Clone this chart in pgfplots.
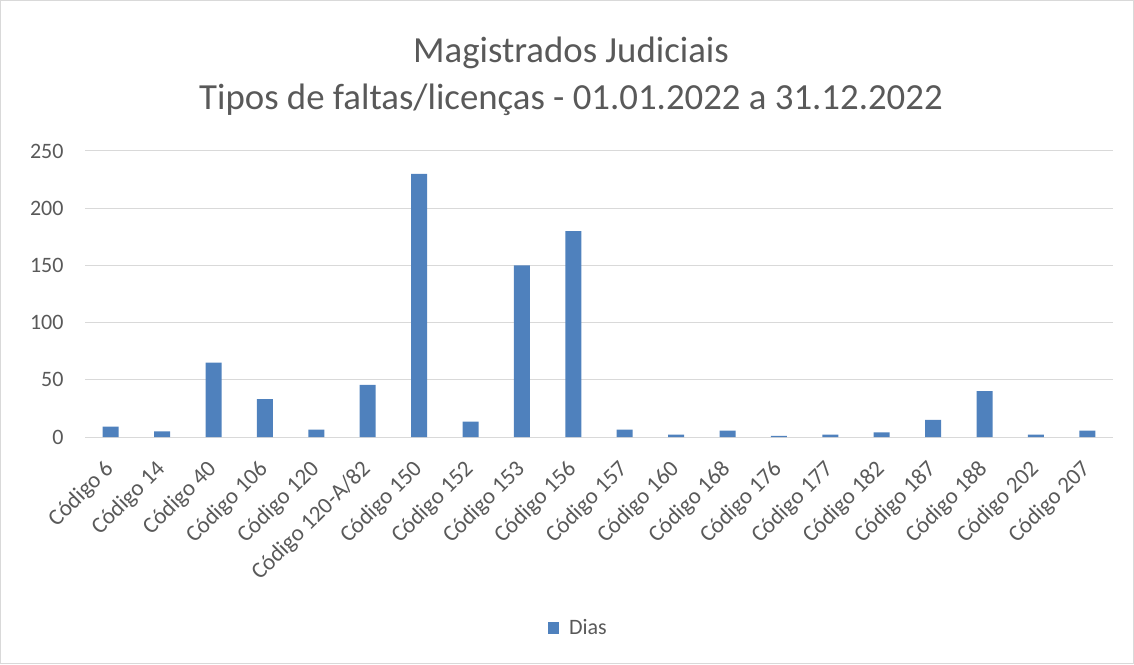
\documentclass[border=0pt]{standalone}
\usepackage{pgfplots}
\pgfplotsset{compat=1.18}
\usepackage{fontspec}
\setmainfont{Carlito}
\definecolor{barblue}{HTML}{4F81BD}
\definecolor{txtgray}{HTML}{595959}
\definecolor{gridgray}{HTML}{D9D9D9}
\begin{document}
\begin{tikzpicture}[x=1pt,y=1pt]
\useasboundingbox (0,0) rectangle (1134,664);
\draw[gridgray, line width=1pt] (0.5,0.5) rectangle (1133.5,663.5);
\node[txtgray, font=\fontsize{36.8}{47}\selectfont, align=center] at (571,588) {Magistrados Judiciais\\Tipos de faltas/licenças - 01.01.2022 a 31.12.2022};
\begin{axis}[
  at={(85pt,227pt)}, anchor=south west,
  scale only axis, width=1028pt, height=286pt,
  xmin=-0.5, xmax=19.5, ymin=0, ymax=250,
  ytick={0,50,...,250},
  xtick={0,...,19},
  xticklabels={Código 6,Código 14,Código 40,Código 106,Código 120,Código 120-A/82,Código 150,Código 152,Código 153,Código 156,Código 157,Código 160,Código 168,Código 176,Código 177,Código 182,Código 187,Código 188,Código 202,Código 207},
  ymajorgrids, grid style={gridgray, line width=1pt},
  axis line style={draw=none},
  major tick length=0pt,
  /pgf/number format/assume math mode=true,
  yticklabel style={txtgray, font=\fontsize{22}{26}\selectfont, xshift=-18pt},
  xticklabel style={txtgray, font=\fontsize{23}{27}\selectfont, xshift=2pt, yshift=-26pt, rotate=45, anchor=east},
  ybar, bar width=16pt,
  legend style={at={(0.48,-0.668)}, anchor=center, draw=none, font=\fontsize{22}{26}\selectfont, text=txtgray},
  legend image code/.code={\fill[barblue] (0pt,-6pt) rectangle (11pt,6pt); \path (19pt,0pt);},
]
\addplot[fill=barblue, draw=none] coordinates {
(0,9) (1,5) (2,65) (3,33) (4,6.5) (5,45.5) (6,230) (7,13.5) (8,150) (9,180)
(10,6.5) (11,2) (12,5.5) (13,1) (14,2) (15,4) (16,15) (17,40) (18,2) (19,5.5)};
\addlegendentry{Dias}
\end{axis}
\end{tikzpicture}
\end{document}
